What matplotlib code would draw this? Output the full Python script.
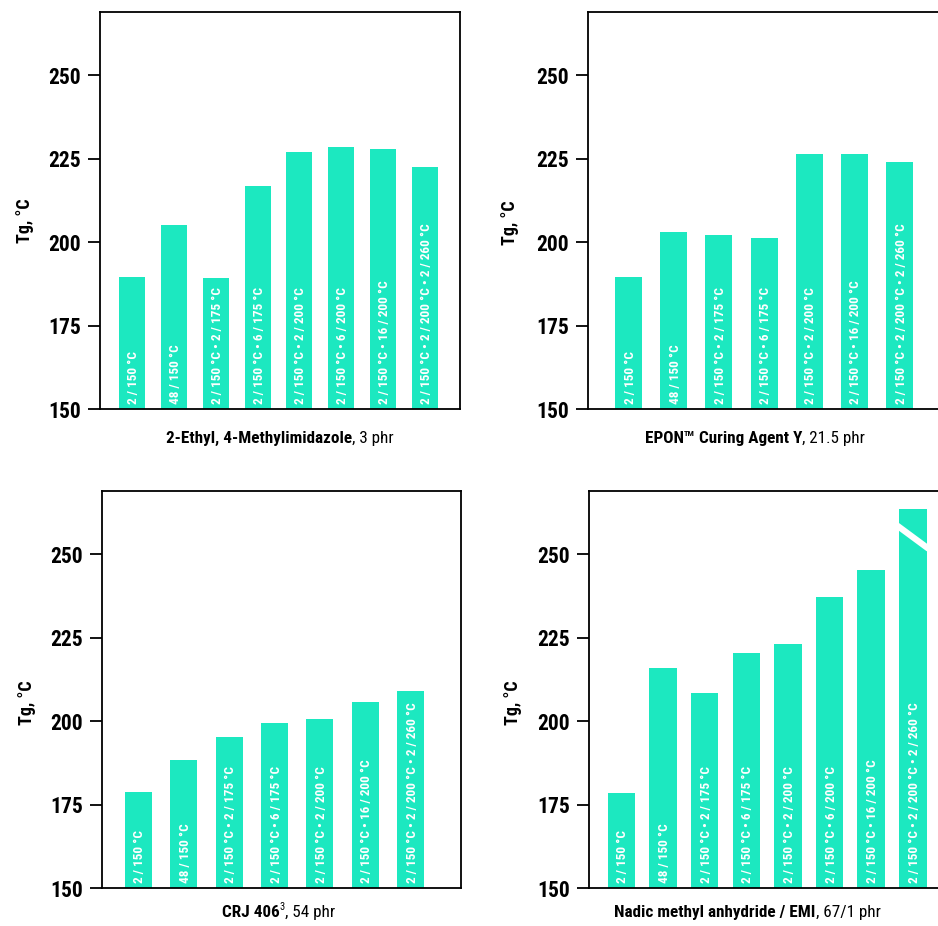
import matplotlib
matplotlib.use('Agg')
import matplotlib.pyplot as plt
from matplotlib import font_manager

# cure schedules (hours / temperature) printed inside the bars
labels_8 = [
	'2 / 150 °C',
	'48 / 150 °C',
	'2 / 150 °C • 2 / 175 °C',
	'2 / 150 °C • 6 / 175 °C',
	'2 / 150 °C • 2 / 200 °C',
	'2 / 150 °C • 6 / 200 °C',
	'2 / 150 °C • 16 / 200 °C',
	'2 / 150 °C • 2 / 200 °C • 2 / 260 °C',
]
labels_7 = [
	'2 / 150 °C',
	'48 / 150 °C',
	'2 / 150 °C • 2 / 175 °C',
	'2 / 150 °C • 6 / 175 °C',
	'2 / 150 °C • 2 / 200 °C',
	'2 / 150 °C • 16 / 200 °C',
	'2 / 150 °C • 2 / 200 °C • 2 / 260 °C',
]

# Tg, °C
ethyl_tg = [189.5, 205.2, 189.2, 217.0, 227.0, 228.6, 227.8, 222.6]
epon_tg = [189.6, 203.2, 202.3, 201.3, 226.3, 226.3, 223.9]
crj_tg = [178.8, 188.3, 195.3, 199.6, 200.6, 205.7, 209.0]
nadic_tg = [178.4, 216.0, 208.5, 220.6, 223.2, 237.3, 245.4, 263.5]

yticks = [150, 175, 200, 225, 250]

BAR_COLOR = '#1ce8c0'


def pick_font ():
	names = set(f.name for f in font_manager.fontManager.ttflist)
	for n in ('Roboto Condensed', 'Barlow Semi Condensed', 'Asap Condensed', 'DejaVu Sans'):
		if n in names:
			return n
	return 'DejaVu Sans'


def draw_panel (ax, values, labels, xlim, width, font):
	xs = list(range(len(values)))
	ax.bar(xs, values, width = width, color = BAR_COLOR, linewidth = 0)
	for x, lab in zip(xs, labels):
		ax.text(x, 151.6, lab, rotation = 90, rotation_mode = 'anchor',
				ha = 'left', va = 'center_baseline', color = 'white', fontsize = 9.5,
				fontweight = 'bold', family = font)
	ax.set_xlim(*xlim)
	ax.set_ylim(150, 269)
	ax.set_yticks(yticks)
	ax.set_xticks([])
	ax.tick_params(axis = 'y', length = 9, width = 1.3, pad = 4.5, labelsize = 15.5)
	for lab in ax.get_yticklabels():
		lab.set_family(font)
		lab.set_weight('bold')
	for s in ax.spines.values():
		s.set_linewidth(1.3)
	return xs


def mixed_text (fig, xc, y, parts, font):
	# parts: (text, weight, size, raise in points)
	texts = []
	for t, w, sz, dy in parts:
		texts.append(fig.text(0, y + dy / 72.0 / fig.get_figheight(), t, fontsize = sz,
				fontweight = w, family = font, ha = 'left', va = 'baseline'))
	r = fig.canvas.get_renderer()
	fw = fig.bbox.width
	widths = [t.get_window_extent(renderer = r).width / fw for t in texts]
	x = xc - sum(widths) / 2.0
	for t, w in zip(texts, widths):
		t.set_x(x)
		x += w


def do_plot ():
	font = pick_font()
	fig = plt.figure(figsize = (9.38, 9.26), dpi = 100)

	ax_tl = fig.add_axes([0.1066, 0.5583, 0.3838, 0.4287])
	ax_tr = fig.add_axes([0.6269, 0.5583, 0.3838, 0.4287])
	ax_bl = fig.add_axes([0.1087, 0.0410, 0.3827, 0.4287])
	ax_br = fig.add_axes([0.6279, 0.0410, 0.3838, 0.4287])

	draw_panel(ax_tl, ethyl_tg, labels_8, (-0.764, 7.835), 0.62, font)
	draw_panel(ax_tr, epon_tg, labels_7, (-0.897, 7.07), 0.60, font)
	draw_panel(ax_bl, crj_tg, labels_7, (-0.805, 7.11), 0.60, font)
	xs = draw_panel(ax_br, nadic_tg, labels_8, (-0.781, 7.87), 0.66, font)

	# break mark on the off-scale bar
	last = xs[-1]
	ax_br.plot([last - 0.38, last + 0.38], [nadic_tg[-1] - 4.8, nadic_tg[-1] - 11.8],
			color = 'white', lw = 4.5, solid_capstyle = 'butt', zorder = 3)

	for x, y in [(0.0267, 0.762), (0.5437, 0.760), (0.0288, 0.241), (0.5470, 0.241)]:
		fig.text(x, y, 'Tg, °C', rotation = 90, ha = 'center', va = 'center',
				fontsize = 13, fontweight = 'bold', family = font)

	mixed_text(fig, 0.2985, 0.522, [
		('2-Ethyl, 4-Methylimidazole', 'bold', 12.3, 0),
		(', 3 phr', 'normal', 12.3, 0)], font)
	mixed_text(fig, 0.805, 0.522, [
		('EPON', 'bold', 12.3, 0),
		('TM', 'bold', 6, 5),
		(' Curing Agent Y', 'bold', 12.3, 0),
		(', 21.5 phr', 'normal', 12.3, 0)], font)
	mixed_text(fig, 0.297, 0.010, [
		('CRJ 406', 'bold', 12.3, 0),
		('3', 'normal', 7.5, 5),
		(', 54 phr', 'normal', 12.3, 0)], font)
	mixed_text(fig, 0.797, 0.010, [
		('Nadic methyl anhydride / EMI', 'bold', 12.3, 0),
		(', 67/1 phr', 'normal', 12.3, 0)], font)

	fig.savefig('out.png', dpi = 100)


do_plot()
